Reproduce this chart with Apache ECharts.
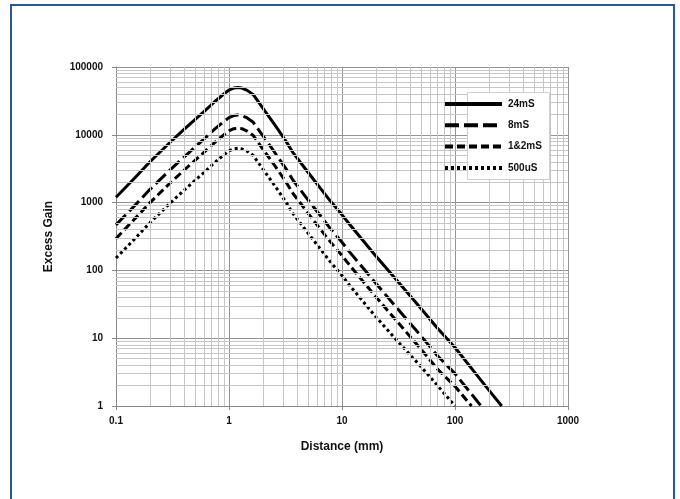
<!DOCTYPE html>
<html>
<head>
<meta charset="utf-8">
<script src="https://cdn.jsdelivr.net/npm/echarts@6/dist/echarts.min.js"></script>
<style>
html,body{margin:0;padding:0;background:#fff;}
#c{width:680px;height:499px;}
</style>
</head>
<body>
<div id="c"></div>
<script>
// ---- data ----
const names = ['24mS', '8mS', '1&2mS', '500uS'];

const dist24 = [0.1,0.15,0.2,0.3,0.4,0.5,0.6,0.75,0.9,1.0,1.1,1.2,1.3,1.45,1.64,2.0,2.4,2.73,3.2,3.7,5,6.4,7.8,10,11.7,20,30,50,70,100,150,200,259];
const gain24 = [1200,2400,4000,7700,12000,16800,21900,31000,40000,45700,49000,50000,49000,45200,39000,24500,16000,11800,8000,5400,2800,1650,1080,660,475,162,74,27.5,14,7.3,3.1,1.7,1];

const dist8 = [0.1,0.15,0.2,0.3,0.4,0.5,0.6,0.75,0.9,1.0,1.1,1.2,1.3,1.45,1.64,2.0,2.4,2.73,3.2,3.7,5,6.4,7.8,10,11.7,20,30,50,70,100,150,170];
const gain8 = [470,940,1570,3020,4700,6600,8600,12200,15700,17900,19200,19600,19200,17700,15300,9600,6300,4600,3140,2120,1100,650,424,260,186,64,29,10.8,5.5,3.0,1.3,1];

const dist12 = [0.1,0.15,0.2,0.3,0.4,0.5,0.6,0.75,0.9,1.0,1.1,1.2,1.3,1.45,1.64,2.0,2.4,2.73,3.2,3.7,5,6.4,7.8,10,11.7,20,30,50,70,100,140];
const gain12 = [295,600,1000,1930,3000,4200,5500,7750,10000,11400,12300,12500,12300,11300,9750,6100,4000,2950,2000,1350,700,410,270,165,119,40.5,18.5,6.9,3.5,1.95,1];

const dist500 = [0.1,0.15,0.2,0.3,0.4,0.5,0.6,0.75,0.9,1.0,1.1,1.2,1.3,1.45,1.64,2.0,2.4,2.73,3.2,3.7,5,6.4,7.8,10,11.7,20,30,50,70,100];
const gain500 = [152,304,506,975,1520,2130,2770,3920,5060,5800,6200,6330,6200,5720,4940,3100,2030,1490,1010,680,355,209,137,84,60,20.5,9.6,3.8,2.0,1];

// axis ranges and minor grid positions
const xMin = 0.1, xMax = 1000;
const yMin = 1, yMax = 100000;
const xMinor = [0.2,0.3,0.4,0.5,0.6,0.7,0.8,0.9, 2,3,4,5,6,7,8,9, 20,30,40,50,60,70,80,90, 200,300,400,500,600,700,800,900];
const yMinor = [2,3,4,5,6,7,8,9, 20,30,40,50,60,70,80,90, 200,300,400,500,600,700,800,900,
                2000,3000,4000,5000,6000,7000,8000,9000, 20000,30000,40000,50000,60000,70000,80000,90000];

function pairs(xs, ys){ return xs.map((x,i)=>[x, ys[i]]); }

const FONT = '"Liberation Sans", Arial, sans-serif';
const chart = echarts.init(document.getElementById('c'), null, {renderer:'canvas'});

const lineStyles = [
  {width:3, type:'solid'},
  {width:3, type:[14,5]},
  {width:3, type:[8,4]},
  {width:3, type:[3,3]}
];
const datasets = [pairs(dist24,gain24), pairs(dist8,gain8), pairs(dist12,gain12), pairs(dist500,gain500)];

const series = names.map((n,i)=>({
  name:n, type:'line', data:datasets[i], symbol:'none', smooth:false,
  lineStyle:Object.assign({color:'#000', cap:'butt', join:'round'}, lineStyles[i]),
  itemStyle:{color:'#000'}, z:3, animation:false, silent:true
}));

series.unshift({
  name:'grid', type:'line', data:[], z:1, silent:true, animation:false,
  markLine:{
    silent:true, animation:false, symbol:['none','none'],
    label:{show:false},
    lineStyle:{type:'solid', color:'#c6c6c6', width:1},
    emphasis:{disabled:true},
    data: xMinor.map(v=>({xAxis:v})).concat(yMinor.map(v=>({yAxis:v})))
  }
});

const fmt = v => String(+(+v).toPrecision(6));

chart.setOption({
  backgroundColor:'#fff',
  animation:false,
  grid:{left:116, right:112, top:67, height:339, containLabel:false},
  xAxis:{
    type:'log', logBase:10, min:xMin, max:xMax,
    name:'Distance (mm)', nameLocation:'middle', nameGap:35,
    nameTextStyle:{fontFamily:FONT, fontWeight:'bold', fontSize:12, color:'#111'},
    axisLine:{show:true, lineStyle:{color:'#888', width:1}},
    axisTick:{show:true, inside:false, length:4, lineStyle:{color:'#888'}},
    axisLabel:{formatter:fmt, fontFamily:FONT, fontWeight:'bold', fontSize:10, color:'#111', margin:10},
    splitLine:{show:true, lineStyle:{color:'#939393', width:1}}
  },
  yAxis:{
    type:'log', logBase:10, min:yMin, max:yMax,
    name:'Excess Gain', nameLocation:'middle', nameGap:61,
    nameTextStyle:{fontFamily:FONT, fontWeight:'bold', fontSize:12, color:'#111'},
    axisLine:{show:true, lineStyle:{color:'#888', width:1}},
    axisTick:{show:true, inside:false, length:4, lineStyle:{color:'#888'}},
    axisLabel:{formatter:fmt, fontFamily:FONT, fontWeight:'bold', fontSize:10, color:'#111', margin:13},
    splitLine:{show:true, lineStyle:{color:'#939393', width:1}}
  },
  legend:{
    data:names, orient:'vertical', left:443, top:99, padding:0,
    itemWidth:57, itemHeight:10, itemGap:11.3,
    selectedMode:false,
    lineStyle:{width:4},
    itemStyle:{opacity:0, color:'rgba(0,0,0,0)', borderWidth:0},
    textStyle:{fontFamily:FONT, fontWeight:'bold', fontSize:10, color:'#111', padding:[0,0,0,1], lineHeight:10},
    zlevel:1, z:10
  },
  graphic:[
    {type:'rect', zlevel:1, z:0, silent:true, shape:{x:467.5, y:92.5, width:82, height:87},
     style:{fill:'#fff', stroke:'#d0d0d0', lineWidth:1}},
    {type:'rect', zlevel:1, z:20, silent:true, shape:{x:11, y:5, width:663, height:510},
     style:{fill:'none', stroke:'#2458a6', lineWidth:2}}
  ],
  series:series
});
</script>
</body>
</html>
